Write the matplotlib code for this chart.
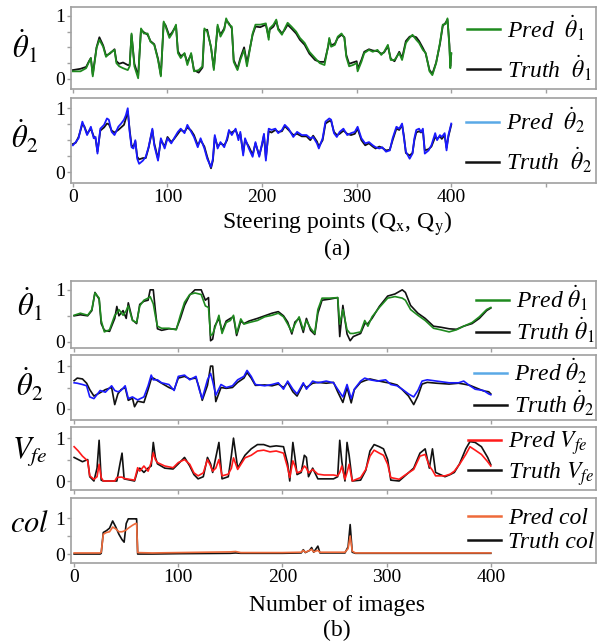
import matplotlib
matplotlib.use('Agg')
import matplotlib.pyplot as plt
from matplotlib.lines import Line2D
from matplotlib.font_manager import FontProperties

plt.rcParams['font.family'] = ['Liberation Serif', 'DejaVu Serif']
plt.rcParams['mathtext.fontset'] = 'stix'

# ---------------- panel (a): steering points ----------------
a1_x = [0, 8, 14, 17, 19, 21, 25, 28, 32, 35, 39, 44, 46, 49, 53, 58, 60, 62, 65, 69,
        72, 75, 79, 82, 86, 90, 93, 96, 98, 102, 105, 109, 111, 114, 118, 121, 125, 128, 133, 137,
        139, 142, 146, 149, 153, 156, 160, 162, 165, 168, 170, 174, 177, 181, 184, 190, 193, 198, 204, 207,
        208, 212, 215, 217, 221, 224, 227, 231, 236, 240, 245, 250, 256, 261, 266, 270, 271, 273, 277, 280,
        284, 287, 289, 292, 296, 300, 301, 305, 308, 313, 317, 322, 326, 329, 333, 336, 340, 345, 348, 352,
        356, 359, 363, 366, 370, 373, 377, 380, 384, 388, 391, 394, 396, 398, 399, 400]
a1_pred = [0.12, 0.12, 0.17, 0.27, 0.33, 0.04, 0.49, 0.62, 0.51, 0.35, 0.41, 0.46, 0.25, 0.20, 0.17, 0.14, 0.20, 0.72, 0.20, 0.01,
           0.80, 0.72, 0.72, 0.59, 0.54, 0.30, 0.04, 0.91, 0.83, 0.65, 0.72, 0.86, 0.41, 0.33, 0.41, 0.22, 0.41, 0.12, 0.14, 0.20,
           0.80, 0.75, 0.51, 0.14, 0.86, 0.67, 0.78, 0.96, 0.86, 0.83, 0.27, 0.14, 0.30, 0.46, 0.20, 0.72, 0.86, 0.86, 0.88, 0.62,
           0.80, 0.86, 0.94, 0.78, 0.70, 0.80, 0.89, 0.83, 0.75, 0.65, 0.57, 0.43, 0.33, 0.25, 0.22, 0.54, 0.65, 0.51, 0.54, 0.67,
           0.72, 0.65, 0.35, 0.20, 0.22, 0.25, 0.12, 0.27, 0.41, 0.46, 0.43, 0.46, 0.38, 0.43, 0.54, 0.30, 0.30, 0.41, 0.30, 0.57,
           0.65, 0.70, 0.62, 0.57, 0.46, 0.41, 0.12, 0.06, 0.25, 0.57, 0.86, 0.87, 0.96, 0.51, 0.17, 0.41]
a1_truth = [0.14, 0.16, 0.19, 0.28, 0.33, 0.07, 0.50, 0.66, 0.53, 0.37, 0.40, 0.47, 0.28, 0.24, 0.26, 0.22, 0.22, 0.70, 0.24, 0.05,
            0.78, 0.74, 0.70, 0.60, 0.55, 0.32, 0.06, 0.89, 0.85, 0.68, 0.74, 0.84, 0.44, 0.36, 0.40, 0.26, 0.39, 0.14, 0.10, 0.18,
            0.77, 0.78, 0.50, 0.17, 0.83, 0.70, 0.80, 0.93, 0.88, 0.80, 0.30, 0.16, 0.33, 0.50, 0.25, 0.70, 0.83, 0.82, 0.86, 0.66,
            0.78, 0.83, 0.92, 0.80, 0.72, 0.78, 0.86, 0.80, 0.72, 0.62, 0.54, 0.40, 0.30, 0.27, 0.27, 0.52, 0.63, 0.53, 0.56, 0.65,
            0.70, 0.66, 0.38, 0.24, 0.26, 0.28, 0.16, 0.30, 0.43, 0.47, 0.45, 0.44, 0.40, 0.42, 0.52, 0.32, 0.28, 0.43, 0.33, 0.60,
            0.67, 0.68, 0.66, 0.60, 0.49, 0.40, 0.14, 0.08, 0.26, 0.55, 0.84, 0.89, 0.94, 0.55, 0.20, 0.40]

a2_x = [0, 3, 6, 10, 12, 15, 19, 22, 24, 26, 29, 33, 36, 38, 41, 44, 48, 51, 54, 56,
        58, 60, 62, 64, 66, 68, 70, 74, 77, 80, 84, 86, 90, 93, 97, 100, 104, 107, 111, 114,
        118, 121, 125, 128, 132, 135, 139, 142, 146, 148, 150, 153, 156, 160, 163, 165, 168, 172, 175, 177,
        180, 182, 186, 190, 193, 197, 200, 202, 204, 207, 210, 214, 217, 221, 224, 228, 233, 237, 242, 247,
        251, 254, 258, 260, 264, 267, 271, 273, 276, 279, 282, 286, 290, 294, 298, 301, 305, 309, 313, 317,
        320, 324, 327, 331, 335, 338, 342, 345, 348, 350, 352, 356, 359, 361, 363, 366, 368, 370, 372, 376,
        379, 383, 385, 388, 390, 393, 395, 397, 400]
a2_pred = [0.42, 0.47, 0.53, 0.79, 0.71, 0.58, 0.71, 0.53, 0.55, 0.29, 0.68, 0.74, 0.84, 0.82, 0.63, 0.58, 0.71, 0.76, 0.82, 0.89,
           1.00, 0.63, 0.39, 0.37, 0.50, 0.21, 0.13, 0.18, 0.24, 0.39, 0.68, 0.42, 0.18, 0.53, 0.37, 0.53, 0.45, 0.53, 0.63, 0.68,
           0.61, 0.74, 0.63, 0.55, 0.39, 0.53, 0.37, 0.21, 0.08, 0.21, 0.58, 0.37, 0.47, 0.39, 0.53, 0.66, 0.58, 0.68, 0.50, 0.63,
           0.26, 0.53, 0.37, 0.24, 0.47, 0.24, 0.45, 0.60, 0.18, 0.68, 0.66, 0.68, 0.61, 0.66, 0.74, 0.68, 0.55, 0.63, 0.58, 0.58,
           0.53, 0.55, 0.45, 0.37, 0.53, 0.79, 0.84, 0.82, 0.61, 0.55, 0.63, 0.68, 0.58, 0.61, 0.63, 0.71, 0.53, 0.45, 0.47, 0.42,
           0.39, 0.37, 0.39, 0.32, 0.34, 0.53, 0.71, 0.68, 0.76, 0.53, 0.32, 0.21, 0.29, 0.53, 0.66, 0.68, 0.63, 0.68, 0.29, 0.34,
           0.42, 0.61, 0.50, 0.58, 0.55, 0.61, 0.34, 0.58, 0.76]
a2_truth = [0.44, 0.46, 0.55, 0.75, 0.72, 0.60, 0.68, 0.56, 0.52, 0.32, 0.65, 0.70, 0.76, 0.75, 0.65, 0.62, 0.66, 0.70, 0.74, 0.84,
            0.95, 0.66, 0.42, 0.40, 0.48, 0.24, 0.20, 0.22, 0.22, 0.38, 0.66, 0.45, 0.21, 0.50, 0.40, 0.55, 0.47, 0.52, 0.60, 0.66,
            0.63, 0.70, 0.65, 0.58, 0.42, 0.50, 0.40, 0.24, 0.06, 0.18, 0.55, 0.40, 0.45, 0.42, 0.50, 0.63, 0.62, 0.66, 0.55, 0.60,
            0.30, 0.50, 0.40, 0.27, 0.45, 0.26, 0.43, 0.58, 0.22, 0.64, 0.62, 0.66, 0.63, 0.64, 0.72, 0.66, 0.58, 0.60, 0.56, 0.56,
            0.50, 0.57, 0.48, 0.40, 0.50, 0.76, 0.80, 0.80, 0.63, 0.58, 0.60, 0.65, 0.60, 0.58, 0.60, 0.68, 0.50, 0.42, 0.45, 0.40,
            0.37, 0.40, 0.38, 0.34, 0.35, 0.50, 0.68, 0.66, 0.74, 0.56, 0.30, 0.26, 0.30, 0.50, 0.62, 0.64, 0.62, 0.65, 0.34, 0.36,
            0.40, 0.55, 0.52, 0.56, 0.52, 0.58, 0.38, 0.56, 0.74]

# ---------------- panel (b): number of images ----------------
b1_x = [0, 6, 13, 17, 20, 24, 26, 29, 34, 39, 41, 43, 47, 50, 52, 56, 60, 63, 67, 71,
        73, 76, 78, 80, 84, 91, 98, 102, 106, 111, 116, 122, 126, 129, 131, 133, 135, 139, 142, 146,
        150, 153, 156, 160, 163, 168, 176, 183, 190, 196, 201, 205, 209, 212, 216, 220, 223, 227, 231, 234,
        238, 245, 253, 255, 258, 262, 265, 268, 275, 279, 282, 286, 293, 301, 308, 315, 318, 323, 330, 337,
        345, 352, 360, 367, 374, 382, 389, 396, 400]
b1_pred = [0.51, 0.55, 0.51, 0.62, 0.94, 0.84, 0.41, 0.19, 0.23, 0.51, 0.55, 0.62, 0.51, 0.60, 0.69, 0.41, 0.37, 0.69, 0.80, 0.84,
           0.87, 0.73, 0.50, 0.30, 0.26, 0.26, 0.23, 0.51, 0.76, 0.91, 0.94, 0.91, 0.69, 0.66, 0.12, 0.15, 0.26, 0.51, 0.16, 0.37,
           0.41, 0.51, 0.16, 0.44, 0.34, 0.37, 0.41, 0.48, 0.51, 0.55, 0.48, 0.34, 0.19, 0.34, 0.48, 0.23, 0.41, 0.26, 0.16, 0.62,
           0.84, 0.84, 0.85, 0.34, 0.62, 0.23, 0.16, 0.16, 0.19, 0.41, 0.30, 0.48, 0.66, 0.84, 0.87, 0.84, 0.80, 0.62, 0.51, 0.41,
           0.26, 0.23, 0.19, 0.23, 0.30, 0.37, 0.48, 0.62, 0.66]
b1_truth = [0.50, 0.52, 0.50, 0.60, 0.95, 0.82, 0.35, 0.22, 0.20, 0.45, 0.68, 0.50, 0.60, 0.45, 0.75, 0.42, 0.35, 0.72, 0.78, 0.80,
            1.00, 1.00, 0.60, 0.25, 0.22, 0.25, 0.24, 0.45, 0.70, 0.90, 1.00, 1.00, 0.80, 0.85, 0.02, 0.05, 0.30, 0.45, 0.20, 0.40,
            0.45, 0.48, 0.12, 0.40, 0.35, 0.40, 0.45, 0.50, 0.55, 0.58, 0.50, 0.38, 0.15, 0.38, 0.45, 0.18, 0.45, 0.22, 0.14, 0.55,
            0.80, 0.82, 0.85, 0.10, 0.70, 0.15, 0.02, 0.10, 0.16, 0.35, 0.35, 0.45, 0.68, 0.88, 0.92, 1.00, 0.95, 0.70, 0.55, 0.45,
            0.30, 0.28, 0.25, 0.24, 0.30, 0.35, 0.45, 0.60, 0.65]

b2_x = [0, 3, 8, 12, 15, 19, 25, 30, 36, 39, 42, 45, 49, 52, 56, 58, 61, 67, 71, 74,
        76, 80, 84, 91, 96, 100, 106, 111, 117, 120, 123, 128, 131, 133, 136, 141, 146, 152, 157, 163,
        166, 170, 174, 183, 190, 196, 201, 205, 210, 214, 220, 223, 229, 234, 242, 249, 253, 258, 262, 266,
        269, 275, 279, 284, 291, 299, 304, 310, 315, 321, 326, 330, 334, 339, 348, 360, 369, 374, 380, 385,
        393, 398, 400]
b2_pred = [0.61, 0.60, 0.57, 0.54, 0.28, 0.24, 0.43, 0.39, 0.54, 0.43, 0.40, 0.43, 0.54, 0.24, 0.28, 0.25, 0.21, 0.28, 0.54, 0.79,
           0.68, 0.68, 0.61, 0.57, 0.43, 0.76, 0.79, 0.68, 0.76, 0.46, 0.24, 0.68, 0.83, 0.65, 0.32, 0.57, 0.50, 0.54, 0.68, 0.76,
           0.90, 0.76, 0.57, 0.54, 0.57, 0.61, 0.46, 0.65, 0.46, 0.35, 0.61, 0.46, 0.65, 0.61, 0.65, 0.61, 0.46, 0.28, 0.57, 0.24,
           0.46, 0.65, 0.72, 0.68, 0.65, 0.68, 0.57, 0.54, 0.46, 0.35, 0.28, 0.43, 0.65, 0.68, 0.65, 0.61, 0.61, 0.65, 0.54, 0.46,
           0.43, 0.35, 0.33]
b2_truth = [0.66, 0.72, 0.70, 0.60, 0.45, 0.30, 0.38, 0.45, 0.50, 0.10, 0.35, 0.45, 0.50, 0.20, 0.25, 0.05, 0.18, 0.15, 0.45, 0.70,
            0.72, 0.66, 0.60, 0.50, 0.45, 0.72, 0.76, 0.70, 0.72, 0.50, 0.20, 0.55, 1.00, 1.00, 0.17, 0.50, 0.48, 0.50, 0.62, 0.72,
            0.85, 0.72, 0.55, 0.56, 0.54, 0.58, 0.50, 0.62, 0.40, 0.30, 0.58, 0.50, 0.60, 0.62, 0.60, 0.62, 0.40, 0.15, 0.50, 0.14,
            0.45, 0.62, 0.66, 0.70, 0.66, 0.62, 0.60, 0.56, 0.45, 0.30, 0.10, 0.30, 0.58, 0.62, 0.60, 0.58, 0.60, 0.58, 0.55, 0.50,
            0.42, 0.40, 0.35]

b3_x = [0, 4, 8, 13, 15, 19, 22, 24, 26, 28, 39, 41, 44, 46, 48, 58, 61, 63, 67, 71,
        74, 76, 78, 80, 87, 95, 100, 106, 111, 115, 119, 124, 128, 131, 133, 136, 139, 142, 148, 151,
        153, 157, 164, 170, 176, 182, 188, 194, 201, 205, 207, 210, 212, 214, 218, 221, 223, 225, 229, 234,
        240, 249, 253, 255, 257, 260, 262, 264, 267, 275, 280, 284, 288, 293, 297, 301, 304, 312, 319, 326,
        332, 337, 341, 344, 347, 356, 361, 365, 370, 376, 380, 385, 391, 397, 400]
b3_pred = [0.80, 0.70, 0.58, 0.47, 0.12, 0.04, 0.10, 0.39, 0.08, 0.00, 0.00, 0.08, 0.09, 0.09, 0.06, 0.02, 0.31, 0.23, 0.35, 0.23,
           0.43, 0.66, 0.50, 0.43, 0.35, 0.31, 0.43, 0.50, 0.39, 0.19, 0.12, 0.19, 0.50, 0.35, 0.23, 0.30, 0.50, 0.12, 0.16, 0.30,
           0.54, 0.27, 0.54, 0.60, 0.70, 0.72, 0.68, 0.70, 0.65, 0.31, 0.08, 0.47, 0.35, 0.19, 0.23, 0.35, 0.30, 0.19, 0.27, 0.16,
           0.14, 0.14, 0.12, 0.20, 0.35, 0.04, 0.20, 0.39, 0.00, 0.08, 0.27, 0.58, 0.72, 0.65, 0.60, 0.39, 0.08, 0.04, 0.16, 0.27,
           0.58, 0.62, 0.35, 0.25, 0.12, 0.12, 0.16, 0.23, 0.39, 0.62, 0.80, 0.72, 0.62, 0.45, 0.35]
b3_truth = [0.55, 0.50, 0.45, 0.50, 0.10, 0.00, 0.30, 0.95, 0.02, 0.00, 0.00, 0.00, 0.40, 0.65, 0.05, 0.00, 0.25, 0.30, 0.20, 0.30,
            0.35, 0.90, 0.55, 0.40, 0.30, 0.28, 0.40, 0.55, 0.35, 0.15, 0.05, 0.10, 0.55, 0.40, 0.20, 0.55, 0.90, 0.05, 0.10, 0.60,
            1.00, 0.30, 0.60, 0.75, 0.85, 0.85, 0.80, 0.82, 0.80, 0.40, 0.00, 0.90, 0.55, 0.15, 0.20, 0.60, 0.55, 0.10, 0.30, 0.05,
            0.05, 0.05, 0.10, 0.95, 0.45, 0.00, 0.90, 0.60, 0.00, 0.02, 0.25, 0.70, 0.85, 0.80, 0.75, 0.50, 0.02, 0.00, 0.15, 0.30,
            0.65, 0.75, 0.30, 0.75, 0.20, 0.10, 0.15, 0.20, 0.40, 0.75, 0.92, 0.90, 0.80, 0.55, 0.38]

b4_x = [0, 25, 26, 28, 31, 34, 37, 40, 43, 46, 48, 50, 52, 56, 59, 60, 61, 75, 100, 150,
        155, 160, 200, 218, 220, 222, 226, 228, 230, 234, 236, 260, 263, 265, 267, 270, 300, 350, 400]
b4_pred = [0.03, 0.03, 0.05, 0.55, 0.60, 0.62, 0.75, 0.70, 0.62, 0.62, 0.64, 0.67, 0.72, 0.80, 0.85, 0.85, 0.04, 0.03, 0.04, 0.06,
           0.07, 0.04, 0.04, 0.05, 0.10, 0.05, 0.10, 0.13, 0.06, 0.10, 0.05, 0.05, 0.15, 0.50, 0.08, 0.03, 0.03, 0.03, 0.03]
b4_truth = [0.00, 0.00, 0.02, 0.60, 0.65, 0.72, 0.92, 0.75, 0.55, 0.40, 0.33, 0.85, 0.98, 0.98, 0.98, 0.98, 0.00, 0.00, 0.01, 0.02,
            0.03, 0.02, 0.02, 0.03, 0.12, 0.04, 0.10, 0.18, 0.05, 0.22, 0.03, 0.03, 0.20, 0.82, 0.05, 0.02, 0.02, 0.02, 0.02]

W, H = 602, 644
SERIF = 'Liberation Serif'
GREEN, BLUE, LBLUE, RED, ORANGE = '#1f8a1f', '#1a1aff', '#5aa9e6', '#ff1a1a', '#ee6a3a'


def px_axes(fig, top, bottom, left=71, right=596):
    return fig.add_axes([left / W, 1 - bottom / H, (right - left) / W, (bottom - top) / H])


def style_axes(ax, xlim, ylim, yticks, xticks=None, xlabels=None):
    ax.set_xlim(*xlim)
    ax.set_ylim(*ylim)
    for sp in ax.spines.values():
        sp.set_color('#a0a0a0')
        sp.set_linewidth(1.2)
    ax.tick_params(colors='#a0a0a0', labelcolor='black', labelsize=14, length=3, width=1, pad=1.5)
    ax.set_yticks(yticks)
    ax.set_yticklabels(['1' if t == 1 else ('0' if t == 0 else '') for t in yticks])
    if xticks is not None:
        ax.set_xticks(xticks)
        if xlabels is None:
            ax.set_xticklabels([])
        else:
            ax.set_xticklabels(xlabels)


def add_legend(ax, pred_color, name, spacing, gap, xanchor):
    handles = [Line2D([], [], color=pred_color, lw=1.8), Line2D([], [], color='#111111', lw=1.8)]
    labels = ['Pred' + gap + name, 'Truth' + gap + name]
    ax.legend(handles, labels, loc='center right', bbox_to_anchor=(xanchor, 0.5), frameon=False,
              prop=FontProperties(family=SERIF, style='italic', size=17),
              handlelength=1.4, handletextpad=0.3, labelspacing=spacing, borderaxespad=0.0)


fig = plt.figure(figsize=(W / 100, H / 100), dpi=100)

xt_a = [0, 100, 200, 300, 400, 500]
xl_a = ['0', '100', '200', '300', '400', '']
xt_b = [0, 100, 200, 300, 400]

# (a)
ax = px_axes(fig, 7, 89)
ax.plot(a1_x, a1_truth, color='#111111', lw=1.3)
ax.plot(a1_x, a1_pred, color=GREEN, lw=1.3)
style_axes(ax, (-2, 553), (-0.16, 1.14), [0, 0.25, 0.5, 0.75, 1], xt_a)
add_legend(ax, GREEN, r'$\dot{\theta}_1$', 0.45, '  ', 1.01)
fig.text(25 / W, 1 - 47 / H, r'$\dot{\theta}_1$', fontsize=22, ha='center', va='center')

ax = px_axes(fig, 98, 183)
ax.plot(a2_x, a2_truth, color='#111111', lw=1.3)
ax.plot(a2_x, a2_pred, color=BLUE, lw=1.3)
style_axes(ax, (-2, 553), (-0.17, 1.16), [0, 0.25, 0.5, 0.75, 1], xt_a, xl_a)
add_legend(ax, LBLUE, r'$\dot{\theta}_2$', 0.45, '  ', 1.01)
fig.text(25 / W, 1 - 137 / H, r'$\dot{\theta}_2$', fontsize=22, ha='center', va='center')
fig.text(337 / W, 1 - 224 / H, r'Steering points (Q$_\mathrm{x}$, Q$_\mathrm{y}$)', fontsize=17,
         ha='center', va='center')
fig.text(337 / W, 1 - 249 / H, '(a)', fontsize=17, ha='center', va='center')

# (b)
b_rows = [
    (281, 348, (-0.12, 1.17), b1_x, b1_pred, b1_truth, GREEN, GREEN, r'$\dot{\theta}_1$', r'$\dot{\theta}_1$', 305),
    (355, 420, (-0.26, 1.26), b2_x, b2_pred, b2_truth, BLUE, LBLUE, r'$\dot{\theta}_2$', r'$\dot{\theta}_2$', 385),
    (427, 490, (-0.21, 1.26), b3_x, b3_pred, b3_truth, RED, RED, r'$V_{fe}$', r'$V_{fe}$', 452),
    (498, 563, (-0.25, 1.56), b4_x, b4_pred, b4_truth, ORANGE, ORANGE, 'col', r'$col$', 525),
]
for i, (top, bot, ylim, x, pred, truth, col, legcol, name, ylab, ylab_y) in enumerate(b_rows):
    ax = px_axes(fig, top, bot)
    ax.plot(x, truth, color='#111111', lw=1.2)
    ax.plot(x, pred, color=col, lw=1.2)
    last = i == len(b_rows) - 1
    style_axes(ax, (-3, 501), ylim, [0, 0.5, 1], xt_b,
               [str(t) for t in xt_b] if last else None)
    add_legend(ax, legcol, name, 0.12, ' ', 1.015)
    fig.text(30 / W, 1 - ylab_y / H, ylab, fontsize=22, ha='center', va='center')

fig.text(337 / W, 1 - 605 / H, 'Number of images', fontsize=17, ha='center', va='center')
fig.text(337 / W, 1 - 630 / H, '(b)', fontsize=17, ha='center', va='center')

fig.savefig('out.png', dpi=100)
plt.close(fig)
